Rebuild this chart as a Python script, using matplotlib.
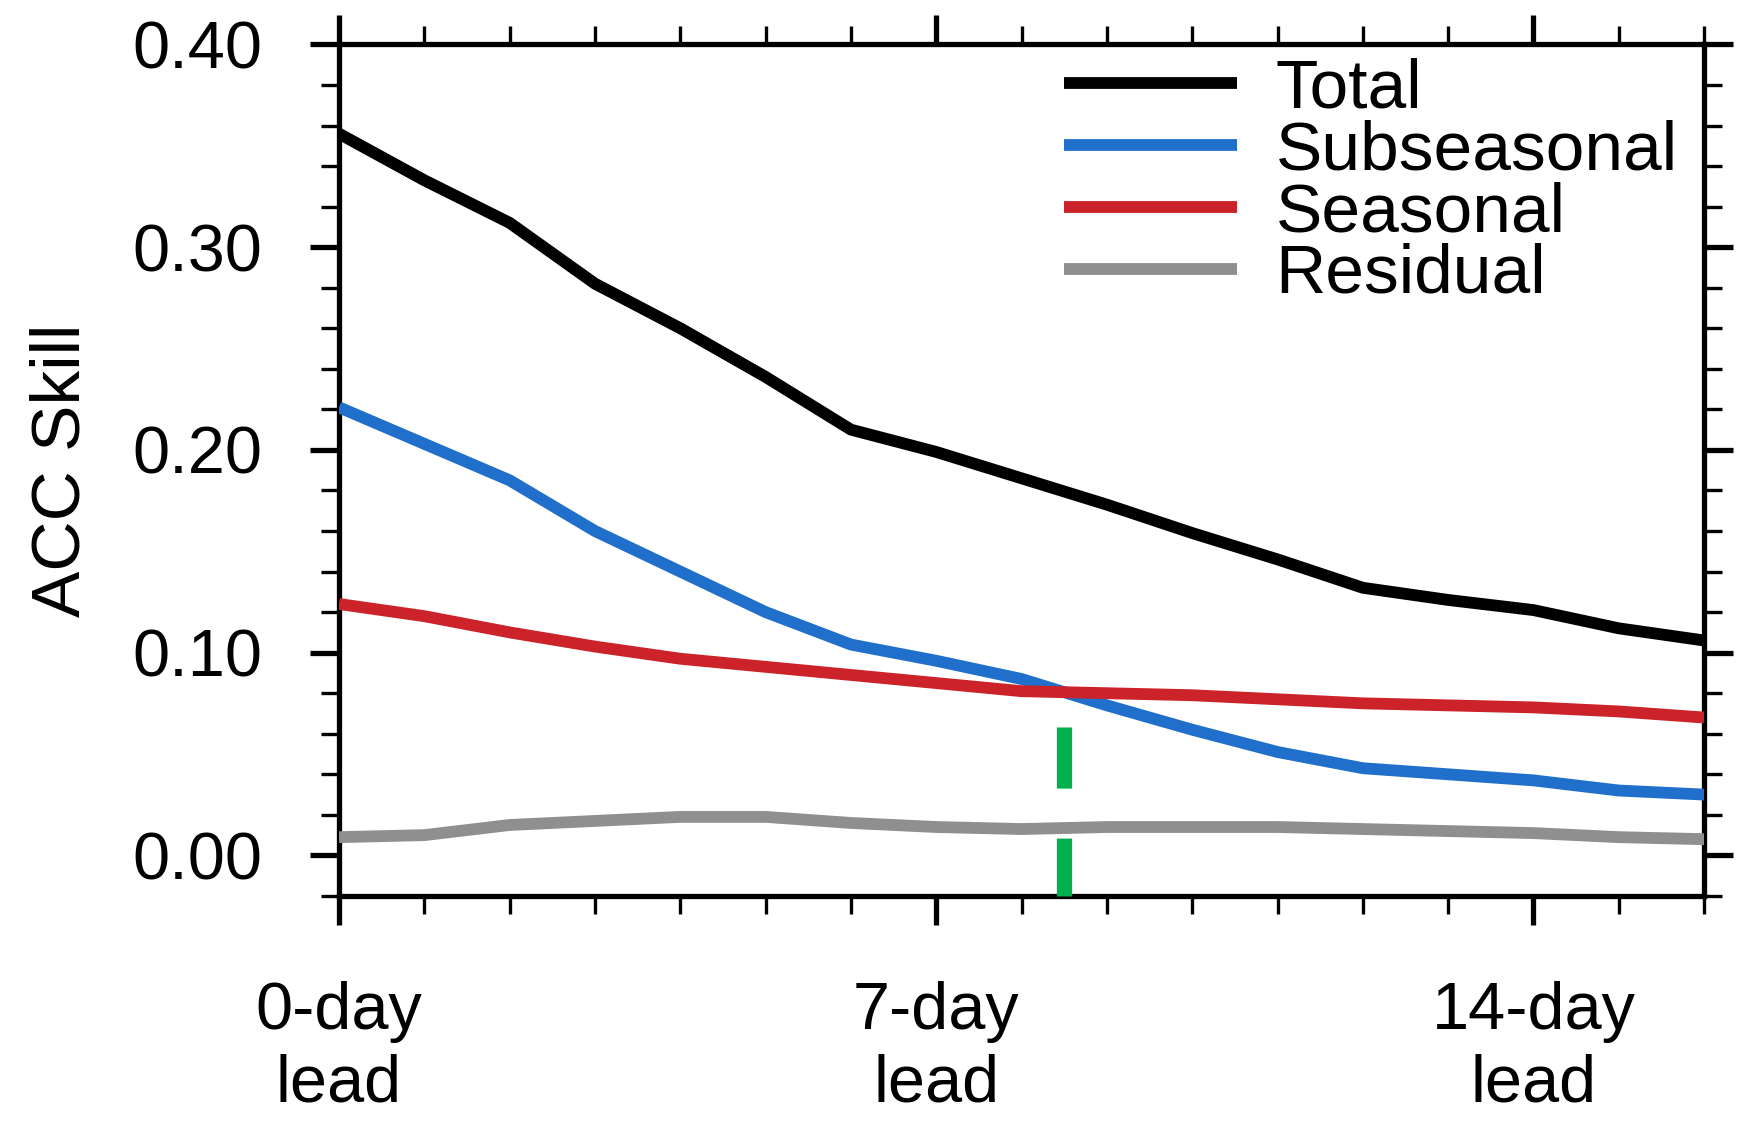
import matplotlib
matplotlib.use("Agg")
import matplotlib.pyplot as plt
from matplotlib.ticker import MultipleLocator, FixedLocator

plt.rcParams['font.family'] = ['Liberation Sans', 'DejaVu Sans']

# ---- data ----
lead_days = list(range(0, 17))
total = [0.356, 0.333, 0.312, 0.282, 0.260, 0.236, 0.210, 0.199, 0.186,
         0.173, 0.159, 0.146, 0.132, 0.126, 0.121, 0.112, 0.106]
subseasonal = [0.221, 0.203, 0.185, 0.160, 0.140, 0.120, 0.104, 0.096, 0.087,
               0.074, 0.062, 0.051, 0.043, 0.040, 0.037, 0.032, 0.030]
seasonal = [0.124, 0.118, 0.110, 0.103, 0.097, 0.093, 0.089, 0.085, 0.081,
            0.080, 0.079, 0.077, 0.075, 0.074, 0.073, 0.071, 0.068]
residual = [0.009, 0.010, 0.015, 0.017, 0.019, 0.019, 0.016, 0.014, 0.013,
            0.014, 0.014, 0.014, 0.013, 0.012, 0.011, 0.009, 0.008]
series_names = ["Total", "Subseasonal", "Seasonal", "Residual"]
series_colors = ["#000000", "#1f6fcb", "#cc2229", "#8f8f8f"]

xtick_pos = [0, 7, 14]
xtick_labels = ["0-day\nlead", "7-day\nlead", "14-day\nlead"]
ytick_pos = [0.0, 0.1, 0.2, 0.3, 0.4]
ytick_labels = ["0.00", "0.10", "0.20", "0.30", "0.40"]

crossover_day = 8.5
crossover_marker_top = 0.0635

# ---- figure ----
fig = plt.figure(figsize=(17.43, 11.25), dpi=100)
ax = fig.add_axes([0.1945, 0.2036, 0.7832, 0.7569])

for vals, name, col in zip([total, subseasonal, seasonal, residual], series_names, series_colors):
    ax.plot(lead_days, vals, color=col, lw=8.5, label=name,
            solid_capstyle='butt', solid_joinstyle='round', zorder=3)

ax.plot([crossover_day, crossover_day], [crossover_marker_top, -0.02],
        color="#00b04f", lw=11, linestyle=(0, (4.0, 3.27)),
        dash_capstyle='butt', clip_on=False, zorder=4)

ax.set_xlim(0, 16)
ax.set_ylim(-0.02, 0.40)

ax.xaxis.set_major_locator(FixedLocator(xtick_pos))
ax.set_xticklabels(xtick_labels, fontsize=48, linespacing=1.23)
ax.xaxis.set_minor_locator(MultipleLocator(1))
ax.yaxis.set_major_locator(FixedLocator(ytick_pos))
ax.set_yticklabels(ytick_labels, fontsize=48)
ax.yaxis.set_minor_locator(MultipleLocator(0.02))

for sp in ax.spines.values():
    sp.set_linewidth(3.8)

ax.tick_params(which='both', direction='out', top=True, right=True)
ax.tick_params(which='major', length=21, width=3.8)
ax.tick_params(which='minor', length=13, width=2.4)
ax.tick_params(axis='y', which='major', pad=34)
ax.tick_params(axis='x', which='major', pad=40)

ax.set_ylabel("ACC Skill", fontsize=50)
ax.yaxis.set_label_coords(-0.18, 0.5)

leg = ax.legend(loc='upper left', bbox_to_anchor=(0.531, 0.985), frameon=False,
                fontsize=50, handlelength=2.49, handletextpad=0.56,
                labelspacing=-0.03, borderpad=0, borderaxespad=0)

fig.savefig("out.png", dpi=100, facecolor='white')
